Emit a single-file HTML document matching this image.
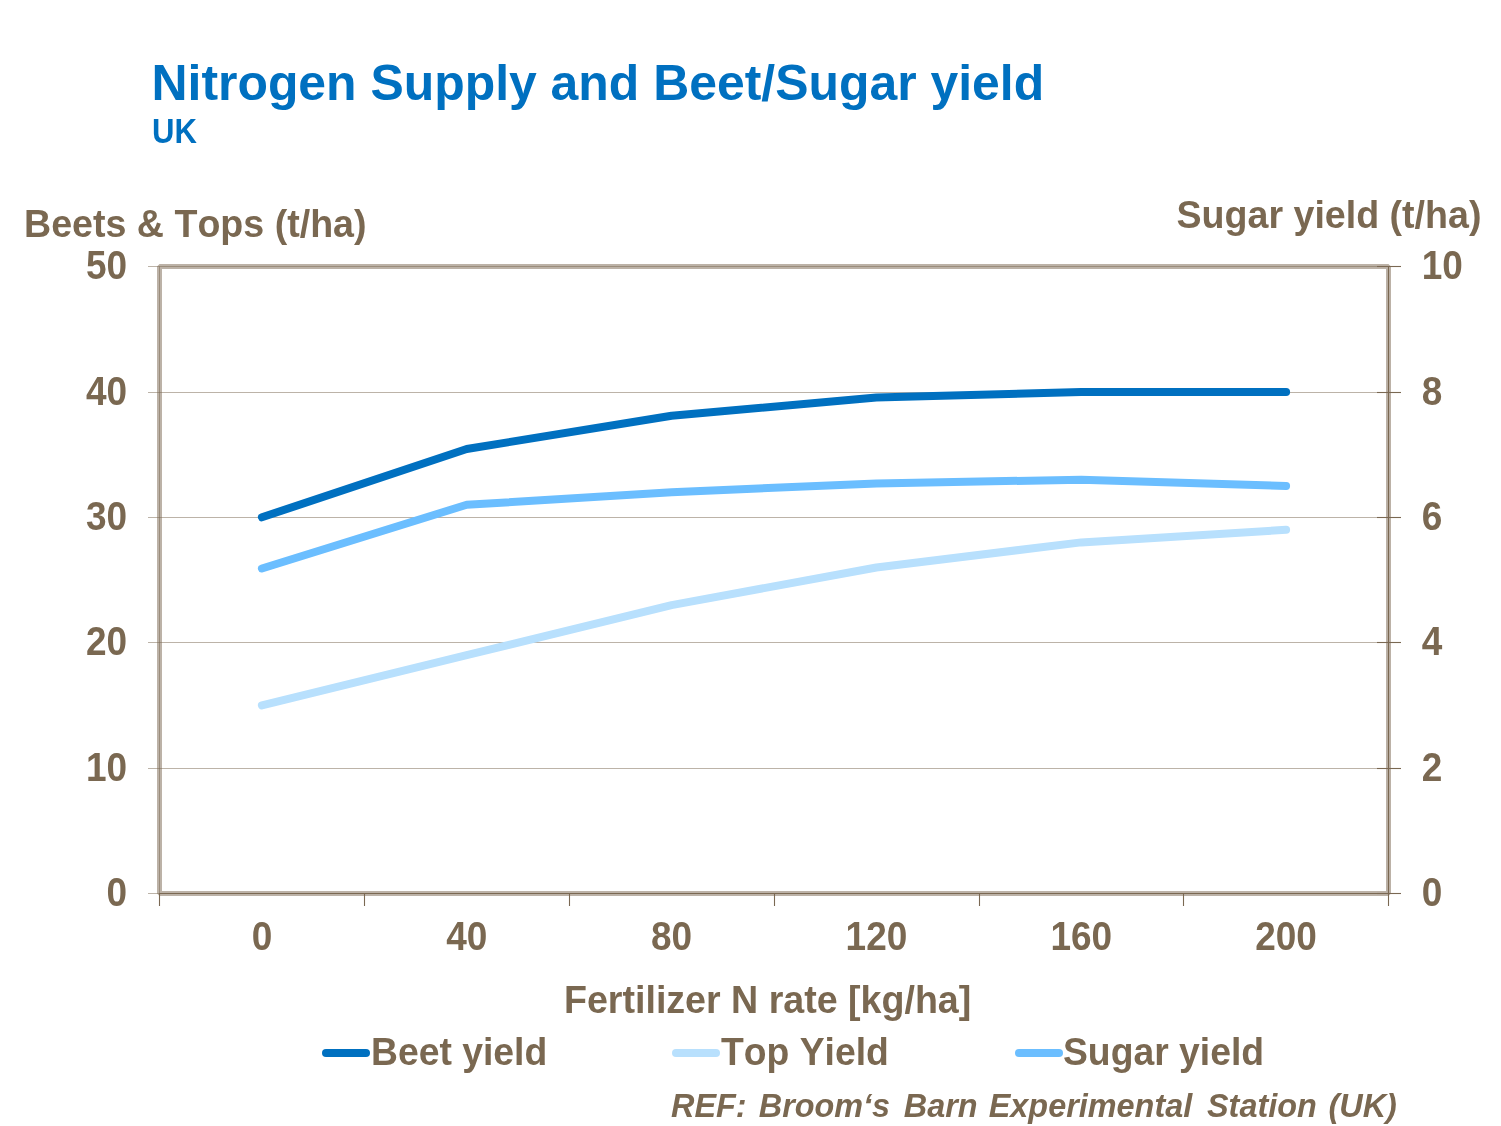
<!DOCTYPE html>
<html><head><meta charset="utf-8"><style>
html,body{margin:0;padding:0;background:#fff;}
body{width:1501px;height:1126px;overflow:hidden;position:relative;}
svg{position:absolute;left:0;top:0;display:block;}
text{font-family:"Liberation Sans",Arial,sans-serif;font-weight:bold;font-kerning:none;}
</style></head><body>
<svg width="1501" height="1126" viewBox="0 0 1501 1126">
<g fill="#7A6851">
<text transform="translate(151.50,99.50) scale(1,1.01)" font-size="49.9" fill="#0070C0">Nitrogen Supply and Beet/Sugar yield</text>
<text transform="translate(152.00,142.60) scale(1,1.12)" font-size="31.1" fill="#0070C0">UK</text>
<text transform="translate(24.00,236.50) scale(1,1.02)" font-size="37.6">Beets &amp; Tops (t/ha)</text>
<text transform="translate(1176.50,227.90) scale(1,1.02)" font-size="37.6">Sugar yield (t/ha)</text>
<text transform="translate(127.20,278.90) scale(1,1.077)" font-size="37" text-anchor="end">50</text><text transform="translate(127.20,404.90) scale(1,1.077)" font-size="37" text-anchor="end">40</text><text transform="translate(127.20,529.90) scale(1,1.077)" font-size="37" text-anchor="end">30</text><text transform="translate(127.20,654.90) scale(1,1.077)" font-size="37" text-anchor="end">20</text><text transform="translate(127.20,780.90) scale(1,1.077)" font-size="37" text-anchor="end">10</text><text transform="translate(127.20,905.90) scale(1,1.077)" font-size="37" text-anchor="end">0</text>
<text transform="translate(1421.70,278.90) scale(1,1.077)" font-size="37">10</text><text transform="translate(1421.70,404.90) scale(1,1.077)" font-size="37">8</text><text transform="translate(1421.70,529.90) scale(1,1.077)" font-size="37">6</text><text transform="translate(1421.70,654.90) scale(1,1.077)" font-size="37">4</text><text transform="translate(1421.70,780.90) scale(1,1.077)" font-size="37">2</text><text transform="translate(1421.70,905.90) scale(1,1.077)" font-size="37">0</text>
<text transform="translate(261.92,950.20) scale(1,1.077)" font-size="37" text-anchor="middle">0</text><text transform="translate(466.75,950.20) scale(1,1.077)" font-size="37" text-anchor="middle">40</text><text transform="translate(671.58,950.20) scale(1,1.077)" font-size="37" text-anchor="middle">80</text><text transform="translate(876.41,950.20) scale(1,1.077)" font-size="37" text-anchor="middle">120</text><text transform="translate(1081.24,950.20) scale(1,1.077)" font-size="37" text-anchor="middle">160</text><text transform="translate(1286.07,950.20) scale(1,1.077)" font-size="37" text-anchor="middle">200</text>
<text transform="translate(564.00,1012.80) scale(1,1.04)" font-size="37.6">Fertilizer N rate [kg/ha]</text>
<text transform="translate(371.00,1064.60) scale(1,1.04)" font-size="37.3">Beet yield</text>
<text transform="translate(721.00,1064.60) scale(1,1.04)" font-size="37.3">Top Yield</text>
<text transform="translate(1063.00,1064.60) scale(1,1.04)" font-size="37.3">Sugar yield</text>
<text transform="translate(0,1117) scale(1,1.04)" font-size="32.4" font-style="italic"><tspan x="671.00">REF: </tspan><tspan x="758.75">Broom‘s </tspan><tspan x="903.75">Barn </tspan><tspan x="988.75">Experimental </tspan><tspan x="1207.00">Station </tspan><tspan x="1328.50">(UK)</tspan></text>
</g>
<rect x="159.5" y="266.5" width="1229" height="627" fill="none" stroke="#BCB2A7" stroke-width="5" stroke-linejoin="bevel"/>
<g stroke="#7A6852" stroke-opacity="0.5" stroke-width="1"><line x1="148" y1="266.5" x2="1388" y2="266.5"/><line x1="148" y1="392.5" x2="1388" y2="392.5"/><line x1="148" y1="517.5" x2="1388" y2="517.5"/><line x1="148" y1="642.5" x2="1388" y2="642.5"/><line x1="148" y1="768.5" x2="1388" y2="768.5"/><line x1="148" y1="893.5" x2="1388" y2="893.5"/><line x1="159.5" y1="266.5" x2="159.5" y2="893.5"/></g>
<g stroke="#7A6852" stroke-width="1.1">
<line x1="1388.5" y1="266" x2="1388.5" y2="894"/>
<line x1="159" y1="893.5" x2="1389" y2="893.5"/>
<line x1="159.5" y1="893.5" x2="159.5" y2="906"/><line x1="364.5" y1="893.5" x2="364.5" y2="906"/><line x1="569.5" y1="893.5" x2="569.5" y2="906"/><line x1="774.5" y1="893.5" x2="774.5" y2="906"/><line x1="979.5" y1="893.5" x2="979.5" y2="906"/><line x1="1183.5" y1="893.5" x2="1183.5" y2="906"/><line x1="1388.5" y1="893.5" x2="1388.5" y2="906"/><line x1="1377" y1="266.5" x2="1401" y2="266.5"/><line x1="1377" y1="392.5" x2="1401" y2="392.5"/><line x1="1377" y1="517.5" x2="1401" y2="517.5"/><line x1="1377" y1="642.5" x2="1401" y2="642.5"/><line x1="1377" y1="768.5" x2="1401" y2="768.5"/><line x1="1377" y1="893.5" x2="1401" y2="893.5"/>
</g>
<g fill="none" stroke-width="8" stroke-linecap="round" stroke-linejoin="round">
<polyline points="261.9,517.3 466.7,449.0 671.6,415.7 876.4,397.5 1081.2,391.9 1286.1,391.9" stroke="#0070C0"/>
<polyline points="261.9,705.4 466.7,655.2 671.6,605.1 876.4,567.5 1081.2,542.4 1286.1,529.8" stroke="#B8E0FD"/>
<polyline points="261.9,568.5 466.7,504.8 671.6,492.2 876.4,483.4 1081.2,479.7 1286.1,486.0" stroke="#6BBEFF"/>
<line x1="326" y1="1053" x2="366" y2="1053" stroke="#0070C0"/>
<line x1="676" y1="1053" x2="716" y2="1053" stroke="#B8E0FD"/>
<line x1="1019" y1="1053" x2="1059" y2="1053" stroke="#6BBEFF"/>
</g>
</svg>
</body></html>
